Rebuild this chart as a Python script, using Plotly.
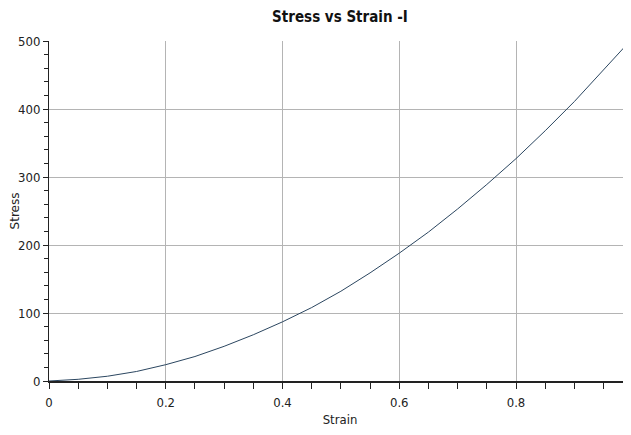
import plotly.graph_objects as go

# strain / stress values
strain = [0, 0.05, 0.1, 0.15, 0.2, 0.25, 0.3, 0.35, 0.4, 0.45, 0.5,
          0.55, 0.6, 0.65, 0.7, 0.75, 0.8, 0.85, 0.9, 0.95, 0.99]
stress = [0, 2.5, 7, 14, 24, 36, 51, 68, 87, 108, 132,
          159, 188, 219, 253, 289, 327, 368, 411, 457, 495]

x_ticks = [0, 0.2, 0.4, 0.6, 0.8]
x_labels = ['0', '0.2', '0.4', '0.6', '0.8']
y_ticks = [0, 100, 200, 300, 400, 500]

cond = "DejaVu Sans Condensed, Liberation Sans Narrow, Roboto, sans-serif"

# the page has an 8px body margin, so the figure is kept 8px smaller
W, H = 623, 427

fig = go.Figure()
fig.add_trace(go.Scatter(
    x=strain,
    y=stress,
    mode='lines',
    line=dict(color='#2b4660', width=1),
    showlegend=False,
))

fig.update_layout(
    width=W,
    height=H,
    margin=dict(l=41, r=0, t=33, b=54, autoexpand=False),
    paper_bgcolor='white',
    plot_bgcolor='white',
    title=dict(
        text='<b>Stress vs Strain -I</b>',
        x=(41 + W) / 2 / W,
        xanchor='center',
        y=1 - 9 / H,
        yanchor='middle',
        font=dict(family=cond, size=15, color='#111111'),
    ),
    xaxis=dict(
        title=dict(text='Strain', font=dict(family=cond, size=13, color='#222222'), standoff=6),
        range=[0, 0.997],
        tickvals=x_ticks,
        ticktext=x_labels,
        tickfont=dict(family=cond, size=13, color='#222222'),
        ticklabelstandoff=2,
        showgrid=True,
        gridcolor='#b4b4b4',
        gridwidth=1,
        zeroline=False,
        showline=True,
        linecolor='#222222',
        linewidth=2,
        ticks='outside',
        ticklen=6,
        tickcolor='#222222',
        minor=dict(dtick=0.05, ticks='outside', ticklen=6, tickcolor='#222222', showgrid=False),
    ),
    yaxis=dict(
        title=dict(text='Stress', font=dict(family='DejaVu Sans, sans-serif', size=12, color='#222222'), standoff=10),
        range=[0, 500],
        tickvals=y_ticks,
        tickfont=dict(family=cond, size=13, color='#222222'),
        showgrid=True,
        gridcolor='#b4b4b4',
        gridwidth=1,
        zeroline=False,
        showline=True,
        linecolor='#222222',
        linewidth=1,
        ticks='outside',
        ticklen=5,
        tickcolor='#222222',
        minor=dict(dtick=20, ticks='outside', ticklen=4, tickcolor='#222222', showgrid=False),
    ),
)

fig.write_html("out.html")
